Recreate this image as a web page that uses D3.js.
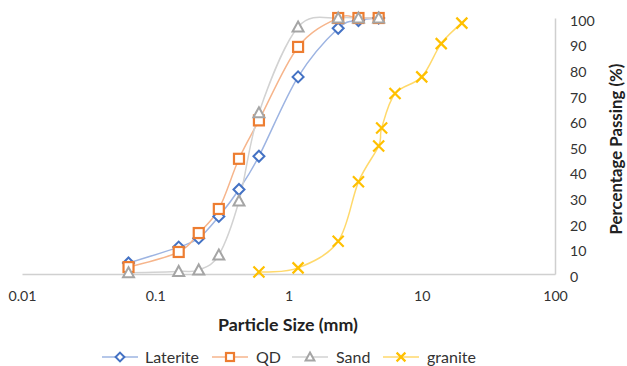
<!DOCTYPE html>
<html>
<head>
<meta charset="utf-8">
<script src="https://cdn.jsdelivr.net/npm/d3@7"></script>
<style>
  html, body { margin: 0; padding: 0; background: #fff; }
  svg { display: block; font-family: Lato, "Open Sans", sans-serif; }
</style>
</head>
<body>
<svg id="chart" width="627" height="366"></svg>
<script>
// Sieve sizes (mm) and percentage passing for each material
const lateriteSize = [0.063, 0.15, 0.212, 0.3, 0.425, 0.6, 1.18, 2.36, 3.35, 4.75];
const lateritePass = [4.3, 10.5, 14, 22.5, 33, 46, 77, 96, 99, 100];

const qdSize = [0.063, 0.15, 0.212, 0.3, 0.425, 0.6, 1.18, 2.36, 3.35, 4.75];
const qdPass = [2.7, 8.6, 16, 25.4, 45, 60, 88.7, 100, 100, 100];

const sandSize = [0.063, 0.15, 0.212, 0.3, 0.425, 0.6, 1.18, 2.36, 3.35, 4.75];
const sandPass = [0.5, 1, 1.6, 7.4, 28.5, 63, 96.5, 100, 100, 100];

const graniteSize = [0.6, 1.18, 2.36, 3.35, 4.75, 5, 6.3, 10, 14, 20];
const granitePass = [0.8, 2.4, 12.8, 36, 50, 57, 70.5, 77, 90, 98];

const xTicks = [0.01, 0.1, 1, 10, 100];
const yTicks = [0, 10, 20, 30, 40, 50, 60, 70, 80, 90, 100];

const series = [
  { name: "Laterite", size: lateriteSize, pass: lateritePass, marker: "diamond", stroke: "#4472C4", line: "#9db4e2" },
  { name: "QD", size: qdSize, pass: qdPass, marker: "square", stroke: "#ED7D31", line: "#f6b58c" },
  { name: "Sand", size: sandSize, pass: sandPass, marker: "triangle", stroke: "#A5A5A5", line: "#d2d2d2" },
  { name: "granite", size: graniteSize, pass: granitePass, marker: "cross", stroke: "#FFC000", line: "#ffd96b" }
];

const svg = d3.select("#chart");
const x = d3.scaleLog().domain([0.01, 100]).range([22, 555]);
const y = d3.scaleLinear().domain([0, 100]).range([274, 18]);

// Axes
const xAxis = svg.append("g")
  .attr("transform", `translate(0,${y(0)})`)
  .call(d3.axisBottom(x).tickValues(xTicks).tickSize(0).tickPadding(17)
    .tickFormat(d => d >= 1 ? d3.format("d")(d) : String(d)));
xAxis.select(".domain").attr("stroke", "#d0d0d0").attr("stroke-width", 1.5);
xAxis.selectAll("text").attr("font-size", 14.2).attr("fill", "#333")
  .attr("font-family", "Lato, sans-serif");

const yAxis = svg.append("g")
  .attr("transform", `translate(${x(100)},0)`)
  .call(d3.axisRight(y).tickValues(yTicks).tickSize(0).tickPadding(15));
yAxis.select(".domain").attr("stroke", "#cfcfcf").attr("stroke-width", 1.5);
yAxis.selectAll("text").attr("font-size", 14.2).attr("fill", "#333")
  .attr("dy", "0.52em").attr("font-family", "Lato, sans-serif");

// Axis titles
svg.append("text")
  .attr("x", 288).attr("y", 331)
  .attr("text-anchor", "middle")
  .attr("font-size", 17.8).attr("font-weight", "bold").attr("fill", "#222")
  .text("Particle Size (mm)");

svg.append("text")
  .attr("transform", "translate(621.5,149) rotate(-90)")
  .attr("text-anchor", "middle")
  .attr("font-size", 16.8).attr("font-weight", "bold").attr("fill", "#222")
  .text("Percentage Passing (%)");

// Marker shapes
function drawMarker(g, type, color, k) {
  if (type === "diamond") {
    g.append("path").attr("d", `M0,${-5.5 * k}L${5.5 * k},0L0,${5.5 * k}L${-5.5 * k},0Z`)
      .attr("fill", "#fff").attr("stroke", color).attr("stroke-width", 2);
  } else if (type === "square") {
    g.append("rect").attr("x", -5 * k).attr("y", -5 * k).attr("width", 10 * k).attr("height", 10 * k)
      .attr("fill", "#fff").attr("stroke", color).attr("stroke-width", 2.2);
  } else if (type === "triangle") {
    g.append("path").attr("d", `M0,${-5.5 * k}L${5.5 * k},${4.5 * k}L${-5.5 * k},${4.5 * k}Z`)
      .attr("fill", "#fff").attr("stroke", color).attr("stroke-width", 2);
  } else if (type === "cross") {
    g.append("path").attr("d", `M${-5.5 * k},${-5.5 * k}L${5.5 * k},${5.5 * k}M${-5.5 * k},${5.5 * k}L${5.5 * k},${-5.5 * k}`)
      .attr("fill", "none").attr("stroke", color).attr("stroke-width", 2.2);
  }
}

const line = d3.line()
  .x(d => x(d[0]))
  .y(d => y(d[1]))
  .curve(d3.curveCatmullRom.alpha(0));

series.forEach(s => {
  const pts = s.size.map((v, i) => [v, s.pass[i]]);
  svg.append("path")
    .datum(pts)
    .attr("d", line)
    .attr("fill", "none")
    .attr("stroke", s.line)
    .attr("stroke-width", 1.5);
});

series.forEach(s => {
  const pts = s.size.map((v, i) => [v, s.pass[i]]);
  pts.forEach(p => {
    const g = svg.append("g").attr("transform", `translate(${x(p[0])},${y(p[1])})`);
    drawMarker(g, s.marker, s.stroke, 1);
  });
});

// Legend
const legendPos = [
  { lx: 102, tx: 145 },
  { lx: 212, tx: 256 },
  { lx: 292, tx: 336 },
  { lx: 383, tx: 427 }
];
const ly = 357;
series.forEach((s, i) => {
  const p = legendPos[i];
  svg.append("line")
    .attr("x1", p.lx).attr("x2", p.lx + 36)
    .attr("y1", ly).attr("y2", ly)
    .attr("stroke", s.line).attr("stroke-width", 1.5);
  const g = svg.append("g").attr("transform", `translate(${p.lx + 18},${ly})`);
  drawMarker(g, s.marker, s.stroke, 0.8);
  svg.append("text")
    .attr("x", p.tx).attr("y", ly).attr("dy", "0.36em")
    .attr("font-size", 16).attr("fill", "#333")
    .text(s.name);
});
</script>
</body>
</html>
